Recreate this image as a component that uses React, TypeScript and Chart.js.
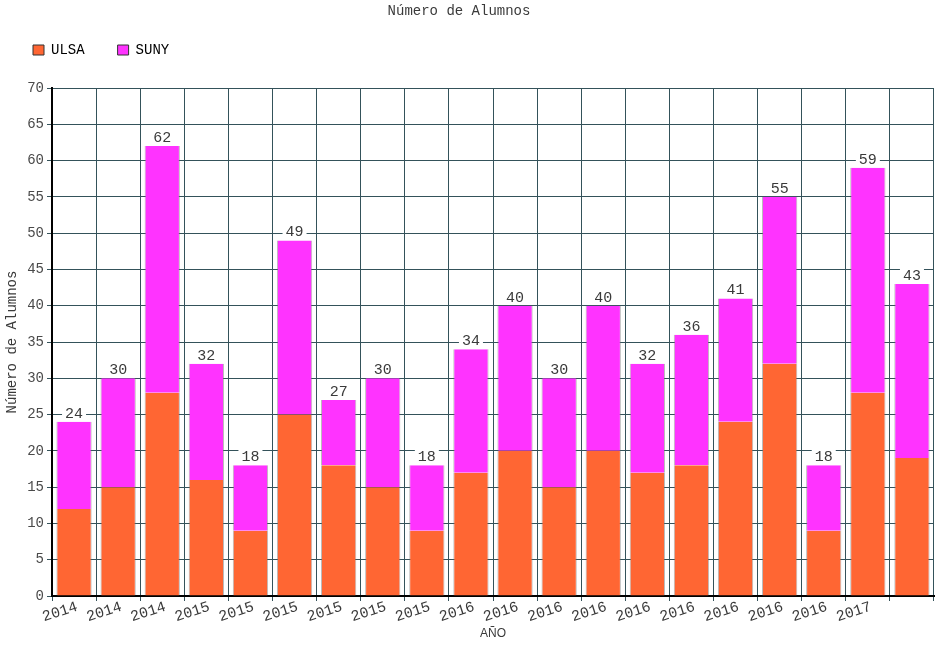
import React, { useEffect, useRef } from 'react';
import { Chart, registerables } from 'chart.js';

Chart.register(...registerables);

const years = ['2014', '2014', '2014', '2015', '2015', '2015', '2015', '2015', '2015', '2016', '2016', '2016', '2016', '2016', '2016', '2016', '2016', '2016', '2017', ''];
const ulsa = [12, 15, 28, 16, 9, 25, 18, 15, 9, 17, 20, 15, 20, 17, 18, 24, 32, 9, 28, 19];
const suny = [12, 15, 34, 16, 9, 24, 9, 15, 9, 17, 20, 15, 20, 15, 18, 17, 23, 9, 31, 24];
const seriesNames = ['ULSA', 'SUNY'];
const seriesColors = ['#FF6633', '#FF33FF'];
const chartTitle = 'Número de Alumnos';
const yTitle = 'Número de Alumnos';
const xTitle = 'AÑO';
const yMin = 0;
const yMax = 70;
const yStep = 5;

const MONO = 'Liberation Mono';
const TEXT = '#3a3a3a';
const GRID = '#34525a';

const titlePlugin = {
  id: 'customTitle',
  afterDraw(chart: any) {
    const ctx = chart.ctx;
    ctx.save();
    ctx.font = `14px "${MONO}"`;
    ctx.fillStyle = TEXT;
    ctx.textAlign = 'center';
    ctx.textBaseline = 'middle';
    ctx.fillText(chartTitle, 459, 11);
    ctx.restore();
  },
};

const legendHeightPlugin = {
  id: 'legendHeight',
  beforeInit(chart: any) {
    const legend = chart.legend;
    if (!legend) return;
    const orig = legend.fit;
    legend.fit = function () {
      orig.call(this);
      this.height = 78;
    };
  },
};

const xLabelPlugin = {
  id: 'xLabels',
  afterDraw(chart: any) {
    const ctx = chart.ctx;
    const xs = chart.scales.x;
    const half = (xs.getPixelForValue(1) - xs.getPixelForValue(0)) / 2;
    const y = chart.chartArea.bottom + 16;
    ctx.save();
    ctx.font = `15px "${MONO}"`;
    ctx.fillStyle = TEXT;
    ctx.textAlign = 'center';
    ctx.textBaseline = 'middle';
    years.forEach((lab, i) => {
      if (!lab) return;
      const x = xs.getPixelForValue(i) - half + 8;
      ctx.save();
      ctx.translate(x, y);
      ctx.rotate((-18 * Math.PI) / 180);
      ctx.fillText(lab, 0, 0);
      ctx.restore();
    });
    ctx.restore();
  },
};

const totalsPlugin = {
  id: 'totals',
  afterDatasetsDraw(chart: any) {
    const ctx = chart.ctx;
    const xs = chart.scales.x;
    const ys = chart.scales.y;
    ctx.save();
    ctx.font = `15px "${MONO}"`;
    ctx.textAlign = 'center';
    ctx.textBaseline = 'alphabetic';
    years.forEach((_, i) => {
      const total = ulsa[i] + suny[i];
      const label = String(total);
      const x = xs.getPixelForValue(i);
      const yTop = ys.getPixelForValue(total);
      const w = ctx.measureText(label).width;
      ctx.fillStyle = '#ffffff';
      ctx.fillRect(x - w / 2 - 3, yTop - 18, w + 6, 17);
      ctx.fillStyle = TEXT;
      ctx.fillText(label, x, yTop - 4);
    });
    ctx.restore();
  },
};

export default function App() {
  const canvasRef = useRef<HTMLCanvasElement | null>(null);

  useEffect(() => {
    if (!canvasRef.current) return;
    const chart = new Chart(canvasRef.current, {
      type: 'bar',
      data: {
        labels: years,
        datasets: [
          {
            label: seriesNames[0],
            data: ulsa,
            backgroundColor: seriesColors[0],
            borderColor: 'rgba(120,120,120,0.5)',
            borderWidth: { top: 0, left: 1, right: 1, bottom: 0 },
            barPercentage: 0.8,
            categoryPercentage: 1.0,
          },
          {
            label: seriesNames[1],
            data: suny,
            backgroundColor: seriesColors[1],
            borderColor: 'rgba(120,120,120,0.5)',
            borderWidth: { top: 0, left: 1, right: 1, bottom: 0 },
            barPercentage: 0.8,
            categoryPercentage: 1.0,
          },
        ],
      },
      options: {
        animation: false,
        responsive: true,
        maintainAspectRatio: false,
        devicePixelRatio: 1,
        layout: { padding: { left: 0, right: 5, top: 10, bottom: 0 } },
        plugins: {
          title: { display: false },
          tooltip: { enabled: false },
          legend: {
            display: true,
            position: 'top',
            align: 'start',
            labels: {
              font: { family: MONO, size: 14 },
              color: TEXT,
              boxWidth: 11,
              boxHeight: 10,
              padding: 33,
              generateLabels: (chart: any) =>
                chart.data.datasets.map((ds: any, i: number) => ({
                  text: ds.label,
                  fillStyle: ds.backgroundColor,
                  strokeStyle: '#333333',
                  lineWidth: 1,
                  hidden: false,
                  datasetIndex: i,
                })),
            },
          },
        },
        scales: {
          x: {
            stacked: true,
            offset: true,
            grid: {
              display: true,
              offset: true,
              color: GRID,
              lineWidth: 1,
              drawTicks: true,
              tickLength: 5,
            },
            border: { display: true, color: '#000000', width: 2 },
            ticks: { display: false },
            title: {
              display: true,
              text: xTitle,
              color: TEXT,
              font: { family: 'Liberation Sans', size: 12 },
              padding: { top: 26, bottom: 4 },
            },
            afterFit: (scale: any) => {
              scale.height = 49;
            },
          },
          y: {
            stacked: true,
            min: yMin,
            max: yMax,
            grid: {
              color: GRID,
              lineWidth: 1,
              drawTicks: true,
              tickLength: 5,
            },
            border: { display: true, color: '#000000', width: 2 },
            ticks: {
              stepSize: yStep,
              padding: 3,
              color: '#4a4a4a',
              font: { family: MONO, size: 14 },
            },
            title: {
              display: true,
              text: yTitle,
              color: TEXT,
              font: { family: MONO, size: 14 },
              padding: { top: 4, bottom: 0 },
            },
            afterFit: (scale: any) => {
              scale.width = 52;
            },
          },
        },
      },
      plugins: [legendHeightPlugin, titlePlugin, xLabelPlugin, totalsPlugin],
    } as any);
    return () => chart.destroy();
  }, []);

  return (
    <div style={{ position: 'fixed', left: 0, top: 0, width: 939, height: 645, background: '#ffffff' }}>
      <canvas ref={canvasRef} />
    </div>
  );
}
